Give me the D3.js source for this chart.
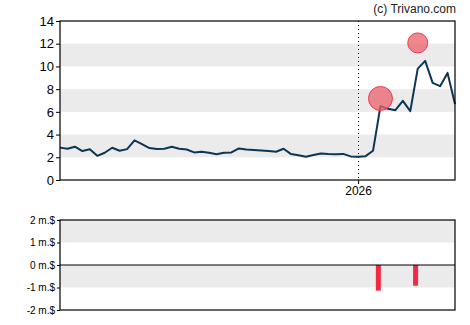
<!DOCTYPE html>
<html>
<head>
<meta charset="utf-8">
<script src="https://cdn.jsdelivr.net/npm/d3@7.9.0/dist/d3.min.js"></script>
<style>
  body { margin: 0; background: #fff; }
  svg { display: block; font-family: "Liberation Sans", Arial, sans-serif; }
</style>
</head>
<body>
<div id="chart"></div>
<script>
const startDate = "2025-03-27";
const prices = [2.85, 2.75, 2.93, 2.55, 2.7, 2.13, 2.4, 2.84, 2.58, 2.72,
  3.49, 3.16, 2.81, 2.72, 2.75, 2.93, 2.75, 2.69, 2.43, 2.49,
  2.4, 2.26, 2.4, 2.43, 2.78, 2.69, 2.64, 2.6, 2.55, 2.49,
  2.75, 2.28, 2.17, 2.05, 2.2, 2.34, 2.28, 2.26, 2.3, 2.08,
  2.05, 2.1, 2.57, 6.5, 6.27, 6.15, 6.97, 6.06, 9.81, 10.49,
  8.55, 8.26, 9.43, 6.68];
const markerDates = ["2026-01-22", "2026-02-26"];
const markerValues = [7.18, 12.07];
const markerSizes = [12, 10];
const flowDates = ["2026-01-20", "2026-02-24"];
const flowValues = [-1.14, -0.92];
const priceTicks = [0, 2, 4, 6, 8, 10, 12, 14];
const flowTicks = [2, 1, 0, -1, -2];
const yearMarks = ["2026-01-01"];

const parse = d3.timeParse("%Y-%m-%d");
const start = parse(startDate);
const series = prices.map((v, i) => ({ date: d3.timeDay.offset(start, i * 7), value: v }));

const width = 470, height = 325;
const left = 60, right = 455;
const main = { top: 21, bottom: 180 };
const low = { top: 220, bottom: 310 };

const svg = d3.select("#chart").append("svg")
  .attr("width", width).attr("height", height);

const x = d3.scaleTime()
  .domain(d3.extent(series, d => d.date))
  .range([left, right]);

const y = d3.scaleLinear().domain([0, 14]).range([main.bottom, main.top]);
const y2 = d3.scaleLinear().domain([-2, 2]).range([low.bottom, low.top]);

// grey bands
[[2, 4], [6, 8], [10, 12]].forEach(([a, b]) => {
  svg.append("rect").attr("x", left).attr("width", right - left)
    .attr("y", y(b)).attr("height", y(a) - y(b)).attr("fill", "#ebebeb");
});
[[1, 2], [-1, 0]].forEach(([a, b]) => {
  svg.append("rect").attr("x", left).attr("width", right - left)
    .attr("y", y2(b)).attr("height", y2(a) - y2(b)).attr("fill", "#ebebeb");
});

// year marker
yearMarks.forEach(d => {
  const xx = Math.round(x(parse(d))) + 0.5;
  svg.append("line").attr("x1", xx).attr("x2", xx)
    .attr("y1", main.top).attr("y2", main.bottom)
    .attr("stroke", "#000").attr("stroke-dasharray", "1,3");
});

// price line
svg.append("path").datum(series)
  .attr("fill", "none").attr("stroke", "#0c3653").attr("stroke-width", 2)
  .attr("stroke-linejoin", "round")
  .attr("d", d3.line().x(d => x(d.date)).y(d => y(d.value)));

// markers
svg.selectAll("circle.m").data(markerDates).join("circle")
  .attr("cx", d => x(parse(d)))
  .attr("cy", (d, i) => y(markerValues[i]))
  .attr("r", (d, i) => markerSizes[i])
  .attr("fill", "#ec5f6b").attr("fill-opacity", 0.75)
  .attr("stroke", "#e8404f").attr("stroke-width", 1);

// axes
const yAxis = d3.axisLeft(y).tickValues(priceTicks).tickSize(4).tickPadding(2);
const gy = svg.append("g").attr("transform", `translate(${left},0)`).call(yAxis);
gy.select(".domain").remove();
gy.selectAll("text").attr("font-size", 13).attr("fill", "#000");

const xAxis = d3.axisBottom(x).tickValues(yearMarks.map(parse))
  .tickFormat(d3.timeFormat("%Y")).tickSize(4).tickPadding(2);
const gx = svg.append("g").attr("transform", `translate(0,${main.bottom})`).call(xAxis);
gx.select(".domain").remove();
gx.selectAll("text").attr("font-size", 12).attr("fill", "#000");

svg.append("rect").attr("x", left).attr("y", main.top)
  .attr("width", right - left).attr("height", main.bottom - main.top)
  .attr("fill", "none").attr("stroke", "#000").attr("stroke-width", 1.2);

// flow bars
svg.selectAll("rect.bar").data(flowDates).join("rect")
  .attr("x", d => x(parse(d)) - 2.5).attr("width", 5)
  .attr("y", y2(0))
  .attr("height", (d, i) => y2(flowValues[i]) - y2(0))
  .attr("fill", "#ee2b40");

const y2Axis = d3.axisLeft(y2).tickValues(flowTicks)
  .tickFormat(d => d + " m.$").tickSize(3).tickPadding(2);
const gy2 = svg.append("g").attr("transform", `translate(${left},0)`).call(y2Axis);
gy2.select(".domain").remove();
gy2.selectAll("text").attr("font-size", 10).attr("fill", "#000");

svg.append("line").attr("x1", left).attr("x2", right)
  .attr("y1", y2(0)).attr("y2", y2(0)).attr("stroke", "#000").attr("stroke-width", 1.2);
svg.append("rect").attr("x", left).attr("y", low.top)
  .attr("width", right - left).attr("height", low.bottom - low.top)
  .attr("fill", "none").attr("stroke", "#000").attr("stroke-width", 1.2);

svg.append("text").attr("x", right + 1).attr("y", 13)
  .attr("text-anchor", "end").attr("font-size", 12).attr("fill", "#222")
  .text("(c) Trivano.com");
</script>
</body>
</html>
